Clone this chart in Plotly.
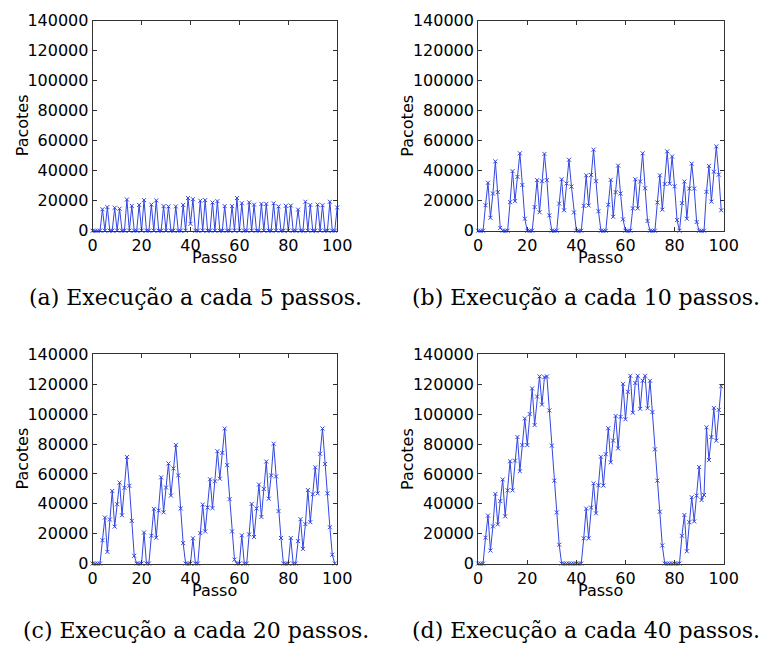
import plotly.graph_objects as go

# Packets per step for four execution intervals
steps_a = list(range(101))
peaks_a_steps = [4, 6, 9, 11, 14, 16, 19, 21, 24, 26, 29, 31, 34, 37, 39, 41, 44, 46, 49,
                 51, 54, 57, 59, 61, 64, 66, 69, 71, 74, 76, 79, 81, 84, 87, 89, 92, 94, 97, 100]
peaks_a_values = [14300, 15750, 15300, 14700, 20800, 16600, 17200, 20400, 17400, 20200,
                  16400, 16200, 16200, 17200, 21800, 21000, 20000, 20400, 18800,
                  19700, 16400, 16400, 21800, 18300, 18900, 17400, 17850, 17850, 18300,
                  16200, 16600, 16800, 14100, 19300, 17200, 17400, 17000, 19300, 15500]
packets_a = [0] * 101
for s, v in zip(peaks_a_steps, peaks_a_values):
    packets_a[s] = v
packets_a[40] = 4600

packets_b = [0, 0, 0, 17000, 32000, 8600, 24800, 46200, 25700, 1900,
             0, 0, 0, 19000, 39700, 19700, 35900, 51600, 30500, 8000,
             0, 0, 0, 15800, 33700, 12300, 33000, 51200, 33700, 10200,
             0, 0, 0, 18100, 34300, 13600, 31500, 47300, 29400, 12200,
             0, 0, 0, 16600, 36900, 16800, 37200, 54000, 33000, 13000,
             0, 0, 0, 17300, 33900, 9300, 25700, 43400, 24800, 7600,
             0, 0, 0, 14900, 34300, 14900, 32800, 51600, 28300, 6500,
             0, 0, 0, 18800, 36900, 14000, 31100, 52900, 31300, 49500,
             29600, 7100, 0, 18400, 32800, 8000, 28100, 44700, 28100, 5800,
             0, 0, 0, 25900, 43200, 19400, 39300, 56200, 37400, 13600]

packets_c = [0, 0, 0, 0, 15600, 30800, 7800, 29500, 48600, 24700,
             39700, 54200, 32300, 50700, 71300, 52000, 28600, 5200, 0, 0,
             0, 20800, 0, 0, 18600, 36600, 17300, 35500, 57700, 34300,
             50900, 67000, 45500, 63700, 79400, 59000, 36900, 13700, 0, 0,
             0, 16900, 0, 0, 20400, 39500, 21500, 37500, 56400, 37100,
             55100, 75200, 56800, 74100, 90400, 65900, 43100, 21500, 2600, 0,
             0, 18900, 0, 0, 19500, 39900, 17800, 36900, 52900, 31200,
             49900, 68300, 43400, 59000, 80200, 58300, 35100, 17100, 0, 0,
             0, 17100, 0, 0, 15000, 29700, 9800, 26400, 49200, 27700,
             46400, 64400, 47000, 73500, 90400, 66600, 47000, 24300, 5900, 0]

packets_d = [0, 0, 0, 17300, 32100, 8700, 24900, 46600, 26200, 41800,
             56300, 31600, 49000, 68500, 49000, 68900, 84700, 61800, 79300, 97100,
             79300, 100100, 117200, 92700, 111800, 125300, 106400, 124800, 125300, 102500,
             78900, 55500, 34200, 12600, 0, 0, 0, 0, 0, 0,
             0, 0, 0, 16900, 36800, 16900, 37500, 53700, 33600, 52400,
             71500, 52200, 73200, 90600, 67800, 82300, 98800, 77100, 98200, 120300,
             96600, 115000, 125700, 101000, 120900, 125700, 103600, 122400, 125700, 104000,
             122400, 101400, 76500, 55500, 34700, 12100, 0, 0, 0, 0,
             0, 0, 0, 18600, 32500, 8200, 27700, 44400, 28200, 45500,
             64600, 42500, 45900, 91200, 69300, 84700, 104200, 82300, 102900, 118700]

captions = ["(a) Execução a cada 5 passos.", "(b) Execução a cada 10 passos.",
            "(c) Execução a cada 20 passos.", "(d) Execução a cada 40 passos."]
x_ticks = [0, 20, 40, 60, 80, 100]
y_ticks = [0, 20000, 40000, 60000, 80000, 100000, 120000, 140000]
y_tick_text = [str(v) for v in y_ticks]

W, H = 775, 659
LINE = "rgb(50,70,225)"

# panel boxes in pixels: (left, right, top, bottom)
boxes = [(90, 341, 12, 228.3), (485.7, 737.7, 12, 228.3),
         (90, 341, 355.7, 571), (485.7, 737.7, 355.7, 571)]
series = [(steps_a, packets_a),
          (list(range(len(packets_b))), packets_b),
          (list(range(len(packets_c))), packets_c),
          (list(range(len(packets_d))), packets_d)]

fig = go.Figure()
annotations = []
tick_font = dict(family="DejaVu Sans", size=16, color="black")

for i, ((l, r, t, b), (xs, ys), cap) in enumerate(zip(boxes, series, captions)):
    n = "" if i == 0 else str(i + 1)
    fig.add_trace(go.Scatter(
        x=xs, y=ys, mode="lines+markers", xaxis="x" + n, yaxis="y" + n,
        line=dict(color=LINE, width=1),
        marker=dict(symbol="x-thin", size=4, line=dict(color=LINE, width=1)),
        cliponaxis=False, showlegend=False))
    axis_common = dict(showline=True, linecolor="#333", linewidth=1, mirror="ticks",
                       ticks="inside", ticklen=4, tickcolor="#333", showgrid=False,
                       zeroline=False, tickfont=tick_font)
    fig.update_layout(**{
        "xaxis" + n: dict(domain=[l / W, r / W], range=[0, 100], tickvals=x_ticks,
                          anchor="y" + n, **axis_common),
        "yaxis" + n: dict(domain=[1 - b / H, 1 - t / H], range=[0, 140000], tickvals=y_ticks,
                          ticktext=y_tick_text, anchor="x" + n, **axis_common),
    })
    cx = (l + r) / 2
    annotations.append(dict(text="Passo", x=cx / W, y=1 - (b + 28) / H, xref="paper", yref="paper",
                            showarrow=False, font=tick_font, xanchor="center", yanchor="middle"))
    annotations.append(dict(text="Pacotes", x=(l - 72) / W, y=1 - (t + b) / 2 / H, xref="paper",
                            yref="paper", showarrow=False, font=tick_font, textangle=-90,
                            xanchor="center", yanchor="middle"))
    cap_x = 196 if i % 2 == 0 else 596
    annotations.append(dict(text=cap, x=cap_x / W, y=1 - (b + 69) / H, xref="paper", yref="paper",
                            showarrow=False, xanchor="center", yanchor="middle",
                            font=dict(family="DejaVu Serif", size=22, color="black")))

fig.update_layout(width=W, height=H, margin=dict(l=0, r=0, t=0, b=0),
                  paper_bgcolor="white", plot_bgcolor="white", annotations=annotations)

fig.write_html("out.html")
